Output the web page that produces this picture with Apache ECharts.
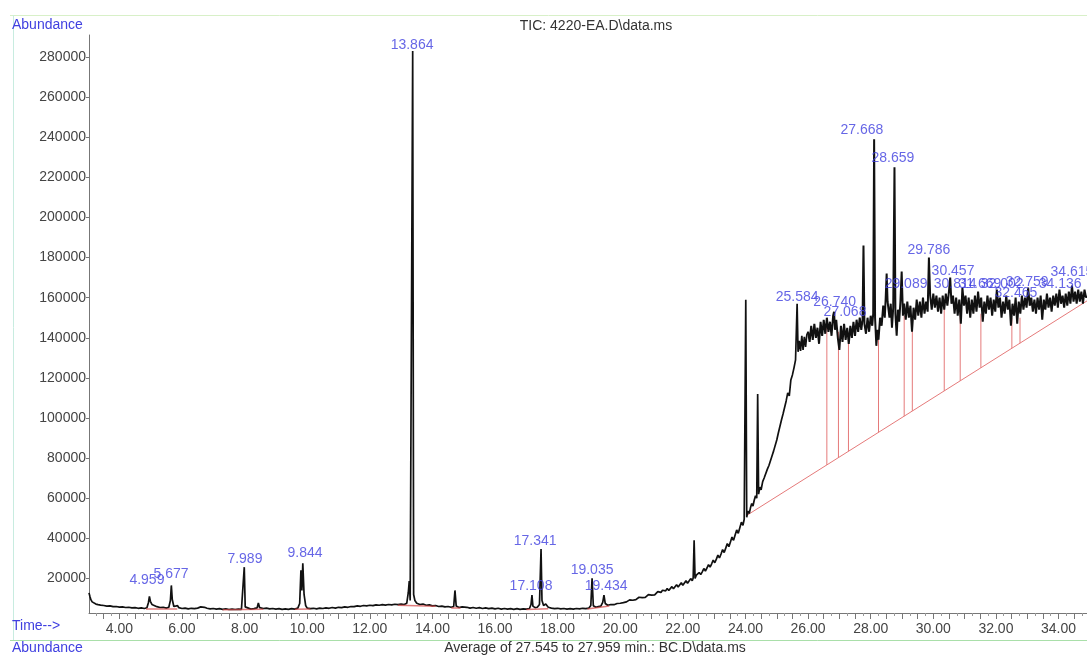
<!DOCTYPE html>
<html><head><meta charset="utf-8">
<script src="https://cdn.jsdelivr.net/npm/echarts@6/dist/echarts.min.js"></script>
<style>html,body{margin:0;padding:0;background:#fff;}#c{width:1087px;height:655px;}</style>
</head><body><div id="c"></div>
<script>
// ---------- tick labels ----------
const xTickLabels = [4, 6, 8, 10, 12, 14, 16, 18, 20, 22, 24, 26, 28, 30, 32, 34];
const yTickLabels = [20000, 40000, 60000, 80000, 100000, 120000, 140000, 160000, 180000, 200000, 220000, 240000, 260000, 280000];

// ---------- TIC trace (time min, abundance) ----------
const ticEarly = [
[3.03,12800],[3.06,11000],[3.09,9400],[3.13,8300],[3.18,7600],[3.25,7200],[3.32,6900],[3.4,6700],[3.5,6500],[3.6,6200],
[3.7,6300],[3.8,5900],[3.9,6000],[4.0,5700],[4.1,5800],[4.2,5500],[4.3,5600],[4.4,5300],[4.5,5400],[4.6,5100],
[4.7,5300],[4.8,5000],[4.88,5400],[4.93,8000],[4.96,11000],[4.99,8600],[5.04,7000],[5.1,6400],[5.2,5900],[5.3,5500],
[5.4,5600],[5.5,5200],[5.58,5600],[5.63,9000],[5.66,16500],[5.69,9500],[5.74,6000],[5.8,5200],[5.86,6400],[5.9,5400],
[6.0,5000],[6.1,5200],[6.2,4800],[6.3,5100],[6.4,4900],[6.5,5200],[6.6,5800],[6.65,6200],[6.72,5600],[6.8,5100],
[6.9,4800],[7.0,5000],[7.1,4700],[7.2,4900],[7.3,4600],[7.4,4800],[7.5,4500],[7.6,4700],[7.7,4500],[7.8,4700],
[7.9,4600],[7.96,5500],[7.99,25600],[8.02,5800],[8.08,4900],[8.2,4700],[8.3,4900],[8.4,5300],[8.44,7800],[8.48,5400],
[8.6,5000],[8.7,5200],[8.8,4800],[8.9,5000],[9.0,4700],[9.1,4900],[9.2,4600],[9.3,4800],[9.4,4600],[9.5,4900],
[9.6,4700],[9.7,5200],[9.76,7500],[9.8,24000],[9.83,14000],[9.86,27600],[9.9,12000],[9.95,6500],[10.0,5200],[10.1,4900],
[10.2,5100],[10.3,4800],[10.4,5200],[10.5,5000],[10.6,5300],[10.7,5100],[10.8,5500],[10.9,5200],[11.0,5600],[11.1,5400],
[11.2,5800],[11.3,5600],[11.4,6000],[11.5,5900],[11.6,6300],[11.7,6100],[11.8,6500],[11.9,6300],[12.0,6600],[12.1,6400],
[12.2,6800],[12.3,6600],[12.4,6900],[12.5,6700],[12.6,7000],[12.7,6800],[12.8,7100],[12.9,6900],[13.0,7200],[13.1,7000],
[13.18,7600],[13.23,13000],[13.26,18700],[13.29,9000],[13.33,9500],[13.37,283000],[13.4,12000],[13.44,9000],[13.5,7600],[13.6,7000],
[13.7,7200],[13.8,6600],[13.9,6800],[14.0,6300],[14.1,6500],[14.2,6000],[14.3,6200],[14.4,5800],[14.5,6000],[14.6,5600],
[14.68,6000],[14.72,14000],[14.76,6200],[14.85,5500],[14.95,5800],[15.0,5400],[15.1,5600],[15.2,5200],[15.3,5500],[15.4,5100],
[15.5,5400],[15.6,5000],[15.7,5300],[15.8,4900],[15.9,5200],[16.0,4800],[16.1,5100],[16.2,4700],[16.3,5000],[16.4,4700],
[16.5,4900],[16.6,4600],[16.7,4900],[16.8,4600],[16.9,4800],[17.0,4700],[17.1,5000],[17.15,7000],[17.18,11700],[17.21,6200],
[17.28,5400],[17.35,5600],[17.42,7000],[17.47,34600],[17.5,9000],[17.55,6500],[17.62,7200],[17.7,5600],[17.8,5200],[17.9,4900],
[18.0,5100],[18.1,4800],[18.2,5000],[18.3,4700],[18.4,4900],[18.5,4700],[18.6,5000],[18.7,4800],[18.8,5100],[18.9,4900],
[19.0,5200],[19.06,6500],[19.1,20000],[19.14,6400],[19.22,5600],[19.3,5900],[19.38,6200],[19.44,8000],[19.48,11700],[19.52,7500],
[19.6,6600],[19.7,7000],[19.8,6900],[19.9,7500],[20.0,7600]
];
const ticRise = [
[20.05,8200],[20.1,7900],[20.15,8700],[20.2,8300],[20.25,8600],[20.3,9300],[20.35,8700],[20.4,9100],[20.45,9900],[20.5,9400],
[20.55,9800],[20.6,10600],[20.65,9900],[20.7,10400],[20.75,11200],[20.8,10500],[20.85,11000],[20.9,11900],[20.95,11100],[21.0,11700],
[21.05,12600],[21.1,11800],[21.15,12300],[21.2,13400],[21.25,12500],[21.3,13000],[21.35,14100],[21.4,13200],[21.45,13800],[21.5,15000],
[21.55,14000],[21.6,14600],[21.65,15900],[21.7,14800],[21.75,15500],[21.8,16800],[21.85,15700],[21.9,16400],[21.95,17800],[22.0,16600],
[22.05,17400],[22.1,18800],[22.15,17600],[22.2,18300],[22.25,19900],[22.3,18800],[22.33,20200],[22.36,39000],[22.39,20000],[22.43,21600],
[22.47,20700],[22.52,22900],[22.57,21900],[22.62,23300],[22.67,24900],[22.72,23700],[22.77,25200],[22.82,26900],[22.87,25600],[22.92,27300],
[22.97,29100],[23.02,27800],[23.07,29600],[23.12,31600],[23.17,30200],[23.22,32200],[23.27,34400],[23.32,32900],[23.37,35100],[23.42,37400],
[23.47,35800],[23.52,38200],[23.57,40600],[23.62,39000],[23.67,41600],[23.72,44200],[23.77,42500],[23.82,45300],[23.87,48000],[23.92,46500],
[23.96,49500],[24.01,159000],[24.04,50500],[24.08,53600],[24.12,52400],[24.16,55200],[24.2,57300],[24.24,56100],[24.28,59000],[24.32,61200],
[24.36,60000],[24.39,112000],[24.42,62000],[24.46,65500],[24.5,64200],[24.55,68300],[24.6,70200],[24.65,69600],[24.7,74500],[24.75,76300],
[24.8,75800],[24.85,81200],[24.9,83600],[24.95,82900],[25.0,89000],[25.05,92500],[25.1,91800],[25.15,99000],[25.2,102000],[25.25,101500],
[25.3,108500],[25.35,112500],[25.4,111000],[25.45,119000],[25.5,121500],[25.55,125000],[25.6,129000],[25.65,157000],[25.68,133000],[25.72,138500],
[25.76,133500],[25.8,141000],[25.84,134000],[25.88,140500],[25.92,135500],[25.96,141500],[26.0,143000]
];
const ticPlateau = [
[26.0,143000],[26.05,138000],[26.1,146000],[26.15,139000],[26.2,147000],[26.25,140000],[26.3,145000],[26.35,137000],[26.4,148000],[26.45,141000],
[26.5,149000],[26.55,142000],[26.6,150000],[26.65,143000],[26.7,148000],[26.75,141000],[26.8,151000],[26.83,153000],[26.86,144000],[26.9,149000],
[26.95,140000],[27.0,134000],[27.05,146000],[27.1,138000],[27.15,147000],[27.2,139000],[27.25,145000],[27.3,137000],[27.35,146000],[27.4,140000],
[27.45,148000],[27.5,141000],[27.55,149000],[27.6,143000],[27.65,150000],[27.7,144000],[27.74,149000],[27.77,186000],[27.8,147000],[27.85,142000],
[27.9,150000],[27.95,143000],[28.0,151000],[28.05,146000],[28.08,152000],[28.11,239000],[28.14,150000],[28.18,136000],[28.22,144000],[28.25,139000],
[28.3,150000],[28.35,146000],[28.4,156000],[28.45,150000],[28.48,160000],[28.51,172000],[28.54,158000],[28.6,150000],[28.64,157000],[28.68,145000],
[28.72,155000],[28.76,225000],[28.79,152000],[28.83,141000],[28.87,154000],[28.91,148000],[28.95,158000],[28.99,173000],[29.03,151000],[29.07,157000],
[29.12,149000],[29.17,158000],[29.22,150000],[29.27,156000],[29.32,143000],[29.37,155000],[29.42,149000],[29.47,159000],[29.52,151000],[29.57,158000],
[29.62,150000],[29.67,160000],[29.72,152000],[29.77,158000],[29.82,153000],[29.86,180000],[29.9,161000],[29.95,154000],[30.0,162000],[30.05,155000],
[30.1,161000],[30.15,153000],[30.2,160000],[30.25,152000],[30.3,161000],[30.35,154000],[30.4,162000],[30.45,156000],[30.5,163000],[30.54,170000],
[30.58,157000],[30.63,161000],[30.68,152000],[30.73,160000],[30.78,151000],[30.83,159000],[30.88,147000],[30.93,165000],[30.98,156000],[31.03,161000],
[31.08,152000],[31.13,160000],[31.18,150000],[31.23,159000],[31.28,152000],[31.33,161000],[31.38,153000],[31.43,163000],[31.48,155000],[31.53,160000],
[31.58,148000],[31.63,158000],[31.68,152000],[31.73,161000],[31.78,154000],[31.83,160000],[31.88,151000],[31.93,159000],[31.98,153000],[32.03,164000],
[32.08,155000],[32.13,160000],[32.18,150000],[32.23,158000],[32.28,152000],[32.33,161000],[32.38,154000],[32.43,159000],[32.48,146000],[32.53,157000],
[32.58,151000],[32.63,160000],[32.68,147000],[32.73,158000],[32.78,152000],[32.83,161000],[32.88,154000],[32.93,160000],[32.98,155000],[33.03,165000],
[33.08,156000],[33.13,160000],[33.18,153000],[33.23,159000],[33.28,152000],[33.33,160000],[33.38,154000],[33.43,161000],[33.48,149000],[33.53,159000],
[33.58,154000],[33.63,162000],[33.68,155000],[33.73,160000],[33.78,153000],[33.83,161000],[33.88,156000],[33.93,162000],[33.98,155000],[34.03,164000],
[34.08,157000],[34.13,161000],[34.18,155000],[34.23,162000],[34.28,156000],[34.33,163000],[34.38,157000],[34.43,166000],[34.48,158000],[34.53,163000],
[34.58,157000],[34.63,164000],[34.68,158000],[34.73,163000],[34.78,157000],[34.83,164000],[34.88,160000],[34.91,161000]
];

// ---------- integration baselines (red) ----------
const baseLowSegments = [
[[4.85,4700],[5.85,4800]], [[7.3,4400],[8.6,4600]], [[9.6,4600],[10.1,4700]],
[[12.9,6600],[14.1,6100]], [[14.6,5300],[14.9,5300]], [[17.0,4500],[17.7,4900]], [[18.95,4700],[19.65,6200]]
];
const baseHigh = [[24.08,51800],[34.91,158400]];
const dropTimes   = [26.60, 26.97, 27.29, 28.25, 29.07, 29.33, 30.35, 30.86, 31.52, 32.51, 32.77];
const dropBottoms = [76600, 80200, 83400, 92800, 100900, 103500, 113500, 118500, 125000, 134800, 137300];
const dropTops    = [146000, 143000, 140000, 139000, 151000, 148000, 155000, 153000, 152000, 150000, 150000];

// ---------- peak labels ----------
const peakLabelText = ['4.959','5.677','7.989','9.844','13.864','17.108','17.341','19.035','19.434',
  '25.584','26.740','27.068','27.668','28.659','29.089','29.786','30.457','30.814','31.669','32.002','32.465','32.759','34.136','34.615'];
const peakLabelTime = [4.88, 5.65, 8.01, 9.93, 13.35, 17.15, 17.28, 19.10, 19.55,
  25.65, 26.85, 27.18, 27.72, 28.71, 29.13, 29.86, 30.63, 30.70, 31.49, 32.20, 32.64, 33.00, 34.05, 34.43];
const peakLabelHeight = [19200, 22100, 29600, 32600, 285900, 16200, 38500, 24100, 16200,
  160200, 157700, 152700, 243600, 229700, 166700, 183600, 173200, 166700, 166700, 166700, 162200, 167700, 166700, 172700];

const FONT = 'Liberation Sans';
const BLUE = '#4040e0';
const RED = '#e57a7a';

const lowRed = [];
baseLowSegments.forEach(s => { lowRed.push(s[0], s[1], null); });
const dropData = [];
dropTimes.forEach((t, i) => { dropData.push([t, dropBottoms[i]], [t, dropTops[i]], null); });
const traceLow = ticEarly.concat(ticRise);
const labelData = peakLabelTime.map((t, i) => [t, peakLabelHeight[i]]);

const majorTicks = [], minorTicks = [];
for (let k = 7; k <= 69; k++) { majorTicks.push(k / 2); }
for (let k = 13; k <= 139; k += 2) { minorTicks.push(k / 4); }

const chart = echarts.init(document.getElementById('c'), null, {renderer: 'canvas'});
chart.setOption({
  animation: false,
  backgroundColor: '#fff',
  grid: {left: 89, right: 0, top: 35, bottom: 42},
  xAxis: [{
    type: 'value', min: 3.03, max: 34.91,
    axisLine: {show: true, onZero: false, lineStyle: {color: '#777', width: 1}},
    axisTick: {show: true, length: 6, lineStyle: {color: '#777'}, customValues: majorTicks},
    axisLabel: {customValues: xTickLabels, formatter: v => v.toFixed(2), color: '#444',
      fontFamily: FONT, fontSize: 14, margin: 9},
    splitLine: {show: false}
  }, {
    type: 'value', min: 3.03, max: 34.91, position: 'bottom',
    axisLine: {show: false},
    axisTick: {show: true, length: 3, lineStyle: {color: '#999'}, customValues: minorTicks},
    axisLabel: {show: false}, splitLine: {show: false}
  }],
  yAxis: {
    type: 'value', min: 2750, max: 291000,
    axisLine: {show: true, lineStyle: {color: '#777', width: 1}},
    axisTick: {show: true, length: 3, customValues: yTickLabels, lineStyle: {color: '#777'}},
    axisLabel: {customValues: yTickLabels, formatter: v => String(v), color: '#444',
      fontFamily: FONT, fontSize: 14, margin: 3},
    splitLine: {show: false}
  },
  series: [
    {type: 'line', data: baseHigh, symbol: 'none', silent: true,
      lineStyle: {color: RED, width: 1}, z: 2},
    {type: 'line', data: dropData, symbol: 'none', connectNulls: false, silent: true,
      lineStyle: {color: RED, width: 1}, z: 2},
    {type: 'line', data: traceLow, symbol: 'none', silent: true,
      lineStyle: {color: '#111', width: 1.7}, z: 3},
    {type: 'line', data: ticPlateau, symbol: 'none', silent: true,
      lineStyle: {color: '#111', width: 2}, z: 3},
    {type: 'line', data: lowRed, symbol: 'none', connectNulls: false, silent: true,
      lineStyle: {color: '#d04545', width: 1.5, opacity: 0.7}, z: 4},
    {type: 'scatter', data: labelData, symbolSize: 1, silent: true,
      itemStyle: {color: 'rgba(0,0,0,0)'}, z: 5,
      label: {show: true, position: 'inside', formatter: p => peakLabelText[p.dataIndex],
        color: BLUE, fontFamily: FONT, fontSize: 14}}
  ],
  graphic: [
    {type: 'line', shape: {x1: 10, y1: 15.5, x2: 1087, y2: 15.5}, style: {stroke: '#d8f0c8', lineWidth: 1}},
    {type: 'line', shape: {x1: 13.5, y1: 15, x2: 13.5, y2: 640}, style: {stroke: '#c8ece0', lineWidth: 1}},
    {type: 'line', shape: {x1: 10, y1: 640.5, x2: 1087, y2: 640.5}, style: {stroke: '#a9dfa9', lineWidth: 1}},
    {type: 'text', x: 12, y: 25, style: {text: 'Abundance', fill: BLUE, font: '14px "Liberation Sans"', textVerticalAlign: 'middle'}},
    {type: 'text', x: 596, y: 26, style: {text: 'TIC: 4220-EA.D\\data.ms', fill: '#333', font: '14px "Liberation Sans"', textAlign: 'center', textVerticalAlign: 'middle'}},
    {type: 'text', x: 12, y: 626, style: {text: 'Time-->', fill: BLUE, font: '14px "Liberation Sans"', textVerticalAlign: 'middle'}},
    {type: 'text', x: 12, y: 648, style: {text: 'Abundance', fill: BLUE, font: '14px "Liberation Sans"', textVerticalAlign: 'middle'}},
    {type: 'text', x: 595, y: 648, style: {text: 'Average of 27.545 to 27.959 min.: BC.D\\data.ms', fill: '#333', font: '14px "Liberation Sans"', textAlign: 'center', textVerticalAlign: 'middle'}}
  ]
});
</script>
</body></html>
